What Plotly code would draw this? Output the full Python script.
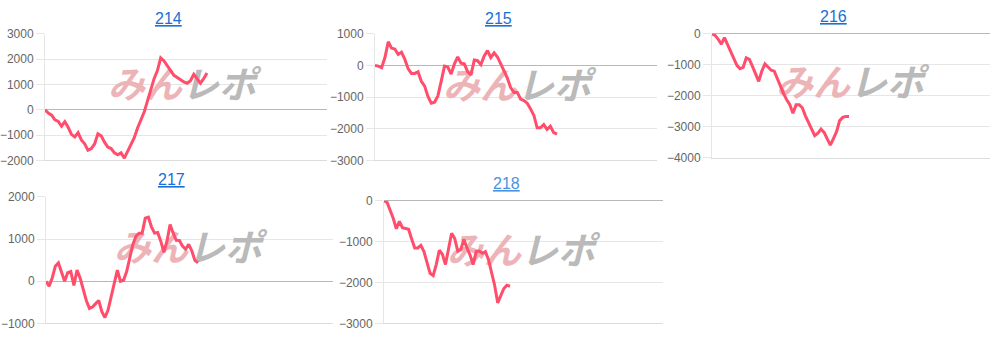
import plotly.graph_objects as go

# ---------------- data ----------------
titles = ["214", "215", "216", "217", "218"]

s214 = [0, -130, -210, -400, -460, -650, -470, -690, -970, -1070, -900, -1190, -1340, -1600, -1530,
        -1350, -950, -1030, -1280, -1470, -1530, -1700, -1780, -1700, -1910, -1660, -1410, -1100, -720,
        -400, -90, 350, 790, 1230, 1550, 2050, 1930, 1760, 1550, 1360, 1270, 1200, 1100, 1050, 1150,
        1400, 1200, 1050, 1230, 1450]
s215 = [0, -20, -70, 250, 750, 550, 520, 350, 420, 200, -100, -250, -250, -200, -500, -650, -980,
        -1190, -1160, -960, -500, -20, -50, -270, 50, 270, 70, 50, -200, -300, 170, 150, 30, 300, 470,
        250, 400, 270, 50, -150, -400, -700, -850, -850, -1060, -1110, -1190, -1370, -1570, -1970,
        -1970, -1870, -2020, -1920, -2120, -2170]
s216 = [0, -50, -175, -330, -125, -360, -590, -845, -1020, -1125, -1085, -775, -825, -1050, -1310,
        -1535, -1205, -970, -1070, -1175, -1205, -1465, -1700, -1930, -2135, -2290, -2565, -2290, -2290,
        -2390, -2650, -2855, -3115, -3290, -3215, -3080, -3185, -3370, -3600, -3390, -3165, -2805,
        -2700, -2670, -2670]
s217 = [0, -115, 75, 355, 435, 230, 0, 205, 230, -100, 265, 75, -190, -455, -645, -610, -530, -455,
        -720, -860, -685, -380, -40, 265, 0, 25, 230, 570, 875, 1065, 1140, 1140, 1495, 1520, 1290,
        1140, 1155, 950, 685, 950, 1345, 1140, 970, 965, 835, 760, 875, 720, 495, 435]
s218 = [0, -40, -235, -430, -685, -505, -660, -680, -700, -935, -1155, -1155, -1090, -1245, -1480,
        -1775, -1830, -1560, -1210, -1310, -1560, -1170, -795, -920, -1230, -1185, -950, -1155, -1325,
        -1560, -1245, -1230, -1285, -1245, -1440, -1755, -2065, -2495, -2320, -2145, -2065, -2090]
series = [s214, s215, s216, s217, s218]

y_ranges = [(-2000, 3000), (-3000, 1000), (-4000, 0), (-1000, 2000), (-3000, 0)]

# ---------------- layout (pixels) ----------------
W, H = 996, 341
# left, right, top, bottom, pixel where series ends
boxes = [(45, 327, 28, 160, 207),
         (375, 657, 28, 160, 557),
         (712, 990, 28, 157, 849),
         (46, 333, 198, 330, 198),
         (384, 663, 202, 330, 510)]
title_pos = [(168, 12), (498, 12), (833, 10), (171, 180), (506, 184)]
title_colors = ["#1a6fd6", "#1a6fd6", "#1a6fd6", "#1a6fd6", "#4a93e0"]
wm_pos = [(182, 85), (517, 86), (850, 83), (188, 255), (521, 258)]

LINE = "#ff4d6b"
GRID = "#e6e6e6"

fig = go.Figure()
layout = dict(width=W, height=H, margin=dict(l=0, r=0, t=0, b=0),
              paper_bgcolor="white", plot_bgcolor="white", showlegend=False,
              annotations=[])

for i, (vals, yr, box) in enumerate(zip(series, y_ranges, boxes)):
    l, r, t, b, endpx = box
    n = len(vals)
    xmax = (n - 1) * (r - l) / (endpx - l)
    xs = list(range(n))
    sfx = "" if i == 0 else str(i + 1)
    xa, ya = "x" + sfx, "y" + sfx

    # watermark (drawn first, beneath the line)
    wx, wy = wm_pos[i]
    xd = (wx - l) / (r - l) * xmax
    yd = yr[1] - (wy - t) / (b - t) * (yr[1] - yr[0])
    fig.add_trace(go.Scatter(
        x=[xd], y=[yd], mode="text", xaxis=xa, yaxis=ya, hoverinfo="skip",
        text=["<span style='color:#edb4b8'>みん</span><span style='color:#bababa'>レポ</span>"],
        textfont=dict(family="Noto Sans CJK JP", size=37, weight="bold", style="italic"),
        textposition="middle center"))

    fig.add_trace(go.Scatter(x=xs, y=vals, mode="lines", xaxis=xa, yaxis=ya,
                             line=dict(color=LINE, width=3), hoverinfo="skip"))

    layout["xaxis" + sfx] = dict(domain=[l / W, r / W], range=[0, xmax], anchor=ya,
                                 showgrid=False, zeroline=False, showticklabels=False,
                                 showline=True, linecolor="#dcdcdc", linewidth=1, fixedrange=True)
    layout["yaxis" + sfx] = dict(domain=[1 - b / H, 1 - t / H], range=list(yr), anchor=xa,
                                 dtick=1000, tick0=0, showgrid=True, gridcolor=GRID, gridwidth=1,
                                 zeroline=True, zerolinecolor="#b8b8b8", zerolinewidth=1,
                                 showline=True, linecolor=GRID, linewidth=1,
                                 ticks="outside", ticklen=8, tickcolor=GRID,
                                 tickfont=dict(family="Arial", size=12, color="#666666"),
                                 fixedrange=True)

    tx, ty = title_pos[i]
    layout["annotations"].append(dict(
        text="<span style='text-decoration:underline'>%s</span>" % titles[i],
        x=tx / W, y=1 - ty / H, xref="paper", yref="paper", showarrow=False,
        xanchor="center", yanchor="middle",
        font=dict(family="Arial", size=16, color=title_colors[i])))

fig.update_layout(**layout)
fig.write_html("out.html")
